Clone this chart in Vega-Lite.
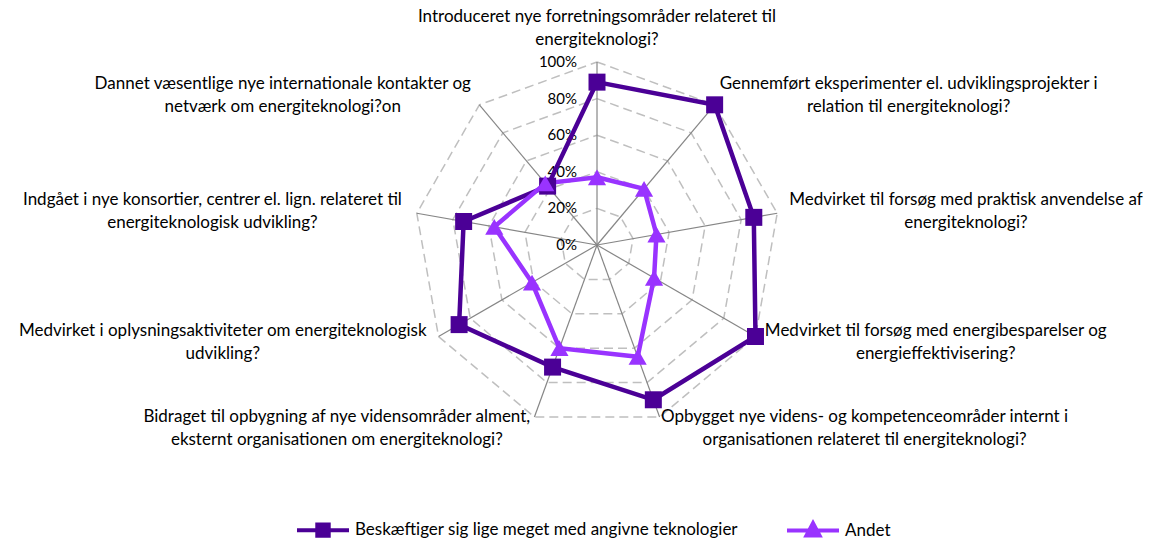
{
  "$schema": "https://vega.github.io/schema/vega-lite/v6.json",
  "width": 1159,
  "height": 545,
  "autosize": "none",
  "padding": 0,
  "background": "white",
  "config": {"view": {"stroke": null}, "font": "Lato"},
  "datasets": {
    "cats": [
      {"i": 0, "label": ["Introduceret nye forretningsområder relateret til", "energiteknologi?"]},
      {"i": 1, "label": ["Gennemført eksperimenter el. udviklingsprojekter i", "relation til energiteknologi?"]},
      {"i": 2, "label": ["Medvirket til forsøg med praktisk anvendelse af", "energiteknologi?"]},
      {"i": 3, "label": ["Medvirket til forsøg med energibesparelser og", "energieffektivisering?"]},
      {"i": 4, "label": ["Opbygget nye videns- og kompetenceområder internt i", "organisationen relateret til energiteknologi?"]},
      {"i": 5, "label": ["Bidraget til opbygning af nye vidensområder alment,", "eksternt organisationen om energiteknologi?"]},
      {"i": 6, "label": ["Medvirket i oplysningsaktiviteter om energiteknologisk", "udvikling?"]},
      {"i": 7, "label": ["Indgået i nye konsortier, centrer el. lign. relateret til", "energiteknologisk udvikling?"]},
      {"i": 8, "label": ["Dannet væsentlige nye internationale kontakter og", "netværk om energiteknologi?on"]}
    ],
    "vals": [
      {"series": "Beskæftiger sig lige meget med angivne teknologier", "i": 0, "value": 89},
      {"series": "Beskæftiger sig lige meget med angivne teknologier", "i": 1, "value": 100},
      {"series": "Beskæftiger sig lige meget med angivne teknologier", "i": 2, "value": 87},
      {"series": "Beskæftiger sig lige meget med angivne teknologier", "i": 3, "value": 100},
      {"series": "Beskæftiger sig lige meget med angivne teknologier", "i": 4, "value": 90},
      {"series": "Beskæftiger sig lige meget med angivne teknologier", "i": 5, "value": 71},
      {"series": "Beskæftiger sig lige meget med angivne teknologier", "i": 6, "value": 87},
      {"series": "Beskæftiger sig lige meget med angivne teknologier", "i": 7, "value": 74},
      {"series": "Beskæftiger sig lige meget med angivne teknologier", "i": 8, "value": 42},
      {"series": "Andet", "i": 0, "value": 37},
      {"series": "Andet", "i": 1, "value": 40},
      {"series": "Andet", "i": 2, "value": 33},
      {"series": "Andet", "i": 3, "value": 36},
      {"series": "Andet", "i": 4, "value": 65},
      {"series": "Andet", "i": 5, "value": 60},
      {"series": "Andet", "i": 6, "value": 41},
      {"series": "Andet", "i": 7, "value": 57},
      {"series": "Andet", "i": 8, "value": 44}
    ],
    "rings": [
      {"lev": 20, "i": [0, 1, 2, 3, 4, 5, 6, 7, 8, 9]},
      {"lev": 40, "i": [0, 1, 2, 3, 4, 5, 6, 7, 8, 9]},
      {"lev": 60, "i": [0, 1, 2, 3, 4, 5, 6, 7, 8, 9]},
      {"lev": 80, "i": [0, 1, 2, 3, 4, 5, 6, 7, 8, 9]},
      {"lev": 100, "i": [0, 1, 2, 3, 4, 5, 6, 7, 8, 9]}
    ],
    "ticks": [{"lev": 0}, {"lev": 20}, {"lev": 40}, {"lev": 60}, {"lev": 80}, {"lev": 100}]
  },
  "encoding": {
    "x": {"field": "x", "type": "quantitative", "scale": {"domain": [-326.23, 307.10], "nice": false, "zero": false}, "axis": null},
    "y": {"field": "y", "type": "quantitative", "scale": {"domain": [-163.93, 133.88], "nice": false, "zero": false}, "axis": null}
  },
  "layer": [
    {
      "data": {"name": "rings"},
      "transform": [
        {"flatten": ["i"]},
        {"calculate": "datum.lev*sin(datum.i*2*PI/9)", "as": "x"},
        {"calculate": "datum.lev*cos(datum.i*2*PI/9)", "as": "y"}
      ],
      "mark": {"type": "line", "color": "#BFBFBF", "strokeWidth": 1.5, "strokeDash": [9, 5]},
      "encoding": {"detail": {"field": "lev", "type": "nominal"}, "order": {"field": "i", "type": "quantitative"}}
    },
    {
      "data": {"name": "cats"},
      "transform": [
        {"calculate": "100*sin(datum.i*2*PI/9)", "as": "x"},
        {"calculate": "100*cos(datum.i*2*PI/9)", "as": "y"}
      ],
      "mark": {"type": "rule", "color": "#868686", "strokeWidth": 1.2},
      "encoding": {"x2": {"datum": 0}, "y2": {"datum": 0}}
    },
    {
      "data": {"name": "ticks"},
      "transform": [
        {"calculate": "0", "as": "x"},
        {"calculate": "datum.lev", "as": "y"},
        {"calculate": "datum.lev + '%'", "as": "t"}
      ],
      "mark": {"type": "text", "align": "right", "baseline": "middle", "dx": -20, "fontSize": 15, "color": "#000000"},
      "encoding": {"text": {"field": "t"}}
    },
    {
      "data": {"name": "vals"},
      "transform": [
        {"calculate": "datum.value*sin(datum.i*2*PI/9)", "as": "x"},
        {"calculate": "datum.value*cos(datum.i*2*PI/9)", "as": "y"}
      ],
      "mark": {"type": "line", "interpolate": "linear-closed", "strokeWidth": 4.5},
      "encoding": {
        "order": {"field": "i", "type": "quantitative"},
        "color": {
          "field": "series", "type": "nominal",
          "scale": {"domain": ["Beskæftiger sig lige meget med angivne teknologier", "Andet"], "range": ["#4B0096", "#9933FF"]},
          "legend": {
            "orient": "none", "legendX": 295, "legendY": 502, "direction": "horizontal", "title": null,
            "labelFont": "Lato", "labelFontSize": 17, "labelColor": "#000000", "labelLimit": 0,
            "symbolSize": 2704, "symbolStrokeWidth": 4, "columnPadding": 41, "labelOffset": 4, "padding": 0,
            "symbolType": "M-1,0H1M-0.22,-0.22H0.22V0.22H-0.22Z",
            "encode": {"symbols": {"update": {
              "shape": {"signal": "datum.value === 'Andet' ? 'M-1,0H1M0,-0.28L0.25,0.19H-0.25Z' : 'M-1,0H1M-0.22,-0.22H0.22V0.22H-0.22Z'"},
              "stroke": {"scale": "color", "field": "value"},
              "fill": {"scale": "color", "field": "value"},
              "strokeWidth": {"value": 4},
              "opacity": {"value": 1},
              "fillOpacity": {"value": 1}
            }}}
          }
        }
      }
    },
    {
      "data": {"name": "vals"},
      "transform": [
        {"filter": "datum.series !== 'Andet'"},
        {"calculate": "datum.value*sin(datum.i*2*PI/9)", "as": "x"},
        {"calculate": "datum.value*cos(datum.i*2*PI/9)", "as": "y"}
      ],
      "mark": {"type": "point", "filled": true, "opacity": 1, "shape": "square", "size": 289},
      "encoding": {"color": {"field": "series", "type": "nominal"}}
    },
    {
      "data": {"name": "vals"},
      "transform": [
        {"filter": "datum.series === 'Andet'"},
        {"calculate": "datum.value*sin(datum.i*2*PI/9)", "as": "x"},
        {"calculate": "datum.value*cos(datum.i*2*PI/9)", "as": "y"}
      ],
      "mark": {"type": "point", "filled": true, "opacity": 1, "shape": "triangle-up", "size": 330},
      "encoding": {"color": {"field": "series", "type": "nominal"}}
    },
    {
      "data": {"name": "cats"},
      "transform": [
        {"calculate": "sin(datum.i*2*PI/9)", "as": "s"},
        {"calculate": "cos(datum.i*2*PI/9)", "as": "c"},
        {"calculate": "17*(0.56*length(datum.label[0]) - 0.29*length(replace(datum.label[0], regexp('[^ijlftrI., ?-]', 'g'), '')))", "as": "w0"},
        {"calculate": "17*(0.56*length(datum.label[1]) - 0.29*length(replace(datum.label[1], regexp('[^ijlftrI., ?-]', 'g'), '')))", "as": "w1"},
        {"calculate": "max(datum.w0, datum.w1)/2/1.83", "as": "hw"},
        {"calculate": "abs(datum.s) < 0.01 ? 0 : 106.6*datum.s + (datum.s > 0 ? 1 : -1)*datum.hw", "as": "x"},
        {"calculate": "abs(datum.s) < 0.01 ? 106*datum.c + 23/1.83 : 106.6*datum.c", "as": "y"}
      ],
      "mark": {"type": "text", "align": "center", "baseline": "middle", "dy": -11.5, "fontSize": 17, "lineHeight": 23, "color": "#000000"},
      "encoding": {"text": {"field": "label"}}
    }
  ]
}
